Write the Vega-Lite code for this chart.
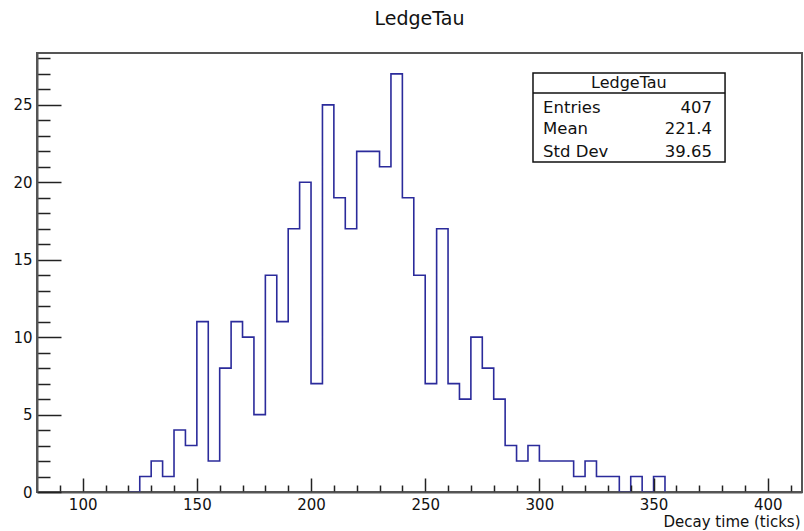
{
  "$schema": "https://vega.github.io/schema/vega-lite/v6.json",
  "width": 765,
  "height": 439,
  "autosize": {"type": "none"},
  "padding": {"left": 37, "top": 53, "right": 2, "bottom": 39},
  "background": "white",
  "title": {"text": "LedgeTau", "fontSize": 19, "font": "DejaVu Sans", "fontWeight": "normal", "offset": 24, "anchor": "middle", "color": "#111"},
  "config": {"view": {"stroke": "#555", "strokeWidth": 2}, "font": "DejaVu Sans"},
  "resolve": {"axis": {"x": "independent", "y": "independent"}},
  "datasets": {
    "hist": [
      {"x": 120, "n": 0}, {"x": 125, "n": 1}, {"x": 130, "n": 2}, {"x": 135, "n": 1}, {"x": 140, "n": 4},
      {"x": 145, "n": 3}, {"x": 150, "n": 11}, {"x": 155, "n": 2}, {"x": 160, "n": 8}, {"x": 165, "n": 11},
      {"x": 170, "n": 10}, {"x": 175, "n": 5}, {"x": 180, "n": 14}, {"x": 185, "n": 11}, {"x": 190, "n": 17},
      {"x": 195, "n": 20}, {"x": 200, "n": 7}, {"x": 205, "n": 25}, {"x": 210, "n": 19}, {"x": 215, "n": 17},
      {"x": 220, "n": 22}, {"x": 225, "n": 22}, {"x": 230, "n": 21}, {"x": 235, "n": 27}, {"x": 240, "n": 19},
      {"x": 245, "n": 14}, {"x": 250, "n": 7}, {"x": 255, "n": 17}, {"x": 260, "n": 7}, {"x": 265, "n": 6},
      {"x": 270, "n": 10}, {"x": 275, "n": 8}, {"x": 280, "n": 6}, {"x": 285, "n": 3}, {"x": 290, "n": 2},
      {"x": 295, "n": 3}, {"x": 300, "n": 2}, {"x": 305, "n": 2}, {"x": 310, "n": 2}, {"x": 315, "n": 1},
      {"x": 320, "n": 2}, {"x": 325, "n": 1}, {"x": 330, "n": 1}, {"x": 335, "n": 0}, {"x": 340, "n": 1},
      {"x": 345, "n": 0}, {"x": 350, "n": 1}, {"x": 355, "n": 0}
    ],
    "stats": [
      {"stat": "Entries", "val": "407"},
      {"stat": "Mean", "val": "221.4"},
      {"stat": "Std Dev", "val": "39.65"}
    ]
  },
  "layer": [
    {
      "data": {"name": "hist"},
      "mark": {"type": "line", "interpolate": "step-after", "color": "#2b2b9b", "strokeWidth": 1.6},
      "encoding": {
        "x": {
          "field": "x", "type": "quantitative",
          "scale": {"domain": [80, 415], "nice": false, "zero": false},
          "axis": {
            "orient": "bottom",
            "values": [90, 100, 110, 120, 130, 140, 150, 160, 170, 180, 190, 200, 210, 220, 230, 240, 250, 260, 270, 280, 290, 300, 310, 320, 330, 340, 350, 360, 370, 380, 390, 400, 410],
            "labelExpr": "datum.value % 50 === 0 ? datum.label : ''",
            "tickSize": {"condition": {"test": "datum.value % 50 === 0", "value": -14}, "value": -7},
            "labelPadding": 19,
            "labelFontSize": 15, "labelColor": "#111", "labelFont": "DejaVu Sans",
            "tickColor": "#222", "tickWidth": 1.5,
            "domainColor": "#555", "domainWidth": 2,
            "grid": false, "zindex": 1, "labelFlush": false,
            "title": "Decay time (ticks)", "titleFontSize": 15, "titleFontWeight": "normal", "titleColor": "#111",
            "titleAnchor": "end", "titleAlign": "right", "titleX": 763, "titleY": 29, "titleBaseline": "middle"
          }
        },
        "y": {
          "field": "n", "type": "quantitative",
          "scale": {"domain": [0, 28.35], "nice": false},
          "axis": {
            "orient": "left",
            "values": [0, 1, 2, 3, 4, 5, 6, 7, 8, 9, 10, 11, 12, 13, 14, 15, 16, 17, 18, 19, 20, 21, 22, 23, 24, 25, 26, 27, 28],
            "labelExpr": "datum.value % 5 === 0 ? datum.label : ''",
            "tickSize": {"condition": {"test": "datum.value % 5 === 0", "value": -24}, "value": -13},
            "labelPadding": 29,
            "labelFontSize": 15, "labelColor": "#111", "labelFont": "DejaVu Sans",
            "tickColor": "#222", "tickWidth": 1.5,
            "domainColor": "#555", "domainWidth": 2,
            "grid": false, "zindex": 1, "labelFlush": false,
            "title": null
          }
        }
      }
    },
    {
      "data": {"values": [{"box": "LedgeTau"}]},
      "mark": {"type": "rect", "fill": "white", "stroke": "#111", "strokeWidth": 1.5},
      "encoding": {
        "x": {"datum": 297.2, "type": "quantitative", "axis": null},
        "x2": {"datum": 381.3},
        "y": {"datum": 27.06, "type": "quantitative", "axis": null},
        "y2": {"datum": 21.31}
      }
    },
    {
      "data": {"values": [{"box": "LedgeTau"}]},
      "mark": {"type": "rule", "stroke": "#111", "strokeWidth": 1.5},
      "encoding": {
        "x": {"datum": 297.2, "type": "quantitative", "axis": null},
        "x2": {"datum": 381.3},
        "y": {"datum": 25.77, "type": "quantitative", "axis": null}
      }
    },
    {
      "data": {"values": [{"box": "LedgeTau"}]},
      "mark": {"type": "text", "fontSize": 16, "align": "center", "baseline": "middle", "color": "#111"},
      "encoding": {
        "x": {"datum": 339.2, "type": "quantitative", "axis": null},
        "y": {"datum": 26.41, "type": "quantitative", "axis": null},
        "text": {"field": "box"}
      }
    },
    {
      "data": {"name": "stats"},
      "transform": [{"filter": "datum.stat === 'Entries'"}],
      "mark": {"type": "text", "fontSize": 16.5, "align": "left", "baseline": "middle", "color": "#111"},
      "encoding": {"x": {"datum": 301.6, "type": "quantitative", "axis": null}, "y": {"datum": 24.8, "type": "quantitative", "axis": null}, "text": {"field": "stat"}}
    },
    {
      "data": {"name": "stats"},
      "transform": [{"filter": "datum.stat === 'Entries'"}],
      "mark": {"type": "text", "fontSize": 16.5, "align": "right", "baseline": "middle", "color": "#111"},
      "encoding": {"x": {"datum": 375.6, "type": "quantitative", "axis": null}, "y": {"datum": 24.8, "type": "quantitative", "axis": null}, "text": {"field": "val"}}
    },
    {
      "data": {"name": "stats"},
      "transform": [{"filter": "datum.stat === 'Mean'"}],
      "mark": {"type": "text", "fontSize": 16.5, "align": "left", "baseline": "middle", "color": "#111"},
      "encoding": {"x": {"datum": 301.6, "type": "quantitative", "axis": null}, "y": {"datum": 23.44, "type": "quantitative", "axis": null}, "text": {"field": "stat"}}
    },
    {
      "data": {"name": "stats"},
      "transform": [{"filter": "datum.stat === 'Mean'"}],
      "mark": {"type": "text", "fontSize": 16.5, "align": "right", "baseline": "middle", "color": "#111"},
      "encoding": {"x": {"datum": 375.6, "type": "quantitative", "axis": null}, "y": {"datum": 23.44, "type": "quantitative", "axis": null}, "text": {"field": "val"}}
    },
    {
      "data": {"name": "stats"},
      "transform": [{"filter": "datum.stat === 'Std Dev'"}],
      "mark": {"type": "text", "fontSize": 16.5, "align": "left", "baseline": "middle", "color": "#111"},
      "encoding": {"x": {"datum": 301.6, "type": "quantitative", "axis": null}, "y": {"datum": 21.96, "type": "quantitative", "axis": null}, "text": {"field": "stat"}}
    },
    {
      "data": {"name": "stats"},
      "transform": [{"filter": "datum.stat === 'Std Dev'"}],
      "mark": {"type": "text", "fontSize": 16.5, "align": "right", "baseline": "middle", "color": "#111"},
      "encoding": {"x": {"datum": 375.6, "type": "quantitative", "axis": null}, "y": {"datum": 21.96, "type": "quantitative", "axis": null}, "text": {"field": "val"}}
    }
  ]
}
